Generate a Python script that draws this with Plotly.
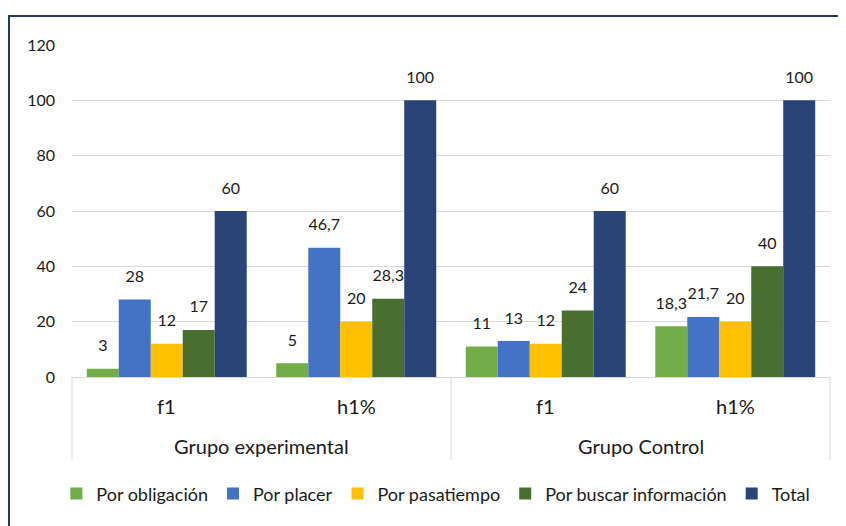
import plotly.graph_objects as go

grupos = ["Grupo experimental", "Grupo experimental", "Grupo Control", "Grupo Control"]
medidas = ["f1", "h1%", "f1", "h1%"]

series_names = ["Por obligación", "Por placer", "Por pasatiempo", "Por buscar información", "Total"]
por_obligacion = [3, 5, 11, 18.3]
por_placer = [28, 46.7, 13, 21.7]
por_pasatiempo = [12, 20, 12, 20]
por_buscar_info = [17, 28.3, 24, 40]
total = [60, 100, 60, 100]

y_ticks = [0, 20, 40, 60, 80, 100, 120]

colors = ["#72AD4A", "#4472C4", "#FFC000", "#486F30", "#2A4478"]
FONT = "Lato"
TXT = "#1a1a1a"
GRID = "#D9D9D9"
BARGAP = 0.156
PLOT_H = 332.0

def fmt(v):
    return ("%g" % v).replace(".", ",")

keys = [g + " · " + m for g, m in zip(grupos, medidas)]
n = len(keys)

fig = go.Figure()
all_series = [por_obligacion, por_placer, por_pasatiempo, por_buscar_info, total]
for name, vals, col in zip(series_names, all_series, colors):
    fig.add_trace(go.Bar(
        x=keys, y=vals, name=name,
        marker=dict(color=col, line=dict(width=0)),
        hoverinfo="skip",
    ))
for name, vals in zip(series_names, all_series):
    fig.add_trace(go.Scatter(
        x=keys, y=vals, mode="markers+text",
        text=[fmt(v) for v in vals], textposition="top center",
        marker=dict(size=20, color="rgba(0,0,0,0)"),
        textfont=dict(family=FONT, size=16, color=TXT),
        showlegend=False, hoverinfo="skip", cliponaxis=False,
    ))

# category labels (inner and outer) and dividers
annotations = []
shapes = []
for i, m in enumerate(medidas):
    annotations.append(dict(x=(i + 0.5) / n, y=-29 / PLOT_H, xref="paper", yref="paper", text=m,
                            showarrow=False, yanchor="middle", xanchor="center",
                            font=dict(family=FONT, size=20, color=TXT)))
outer = []
for i, g in enumerate(grupos):
    if not outer or outer[-1][0] != g:
        outer.append([g, i, i])
    else:
        outer[-1][2] = i
for g, i0, i1 in outer:
    annotations.append(dict(x=(i0 + i1 + 1) / 2 / n, y=-69 / PLOT_H, xref="paper", yref="paper",
                            text=g, showarrow=False, yanchor="middle", xanchor="center",
                            font=dict(family=FONT, size=20, color=TXT)))
    shapes.append(dict(type="line", xref="paper", yref="paper", x0=i0 / n, x1=i0 / n,
                       y0=0, y1=-83 / PLOT_H, line=dict(color=GRID, width=1)))
shapes.append(dict(type="line", xref="paper", yref="paper", x0=1, x1=1,
                   y0=0, y1=-83 / PLOT_H, line=dict(color=GRID, width=1)))
# chart border
shapes.append(dict(type="rect", xref="paper", yref="paper", x0=-0.0831, x1=1.04,
                   y0=-0.5, y1=1.087, line=dict(color="#1F3864", width=2), layer="below"))

fig.update_layout(
    width=838, height=518,
    margin=dict(l=64, r=16, t=37, b=149, autoexpand=False),
    paper_bgcolor="white", plot_bgcolor="white",
    barmode="group", bargap=BARGAP, bargroupgap=0,
    scattermode="group", scattergap=BARGAP,
    font=dict(family=FONT, size=16, color=TXT),
    showlegend=True,
    legend=dict(orientation="h", x=0.48, xanchor="center", y=-0.352, yanchor="middle",
                font=dict(family=FONT, size=18, color=TXT), itemwidth=30,
                tracegroupgap=0),
    annotations=annotations,
    shapes=shapes,
)
fig.update_yaxes(range=[0, 120], tickvals=y_ticks, showgrid=True, gridcolor=GRID,
                 gridwidth=1, zeroline=False, showline=False, ticks="",
                 tickfont=dict(family=FONT, size=16, color=TXT), ticklabelstandoff=16)
fig.update_xaxes(type="category", showline=True, linecolor=GRID, linewidth=1,
                 showticklabels=False, ticks="", showgrid=False)

fig.write_html("out.html")
